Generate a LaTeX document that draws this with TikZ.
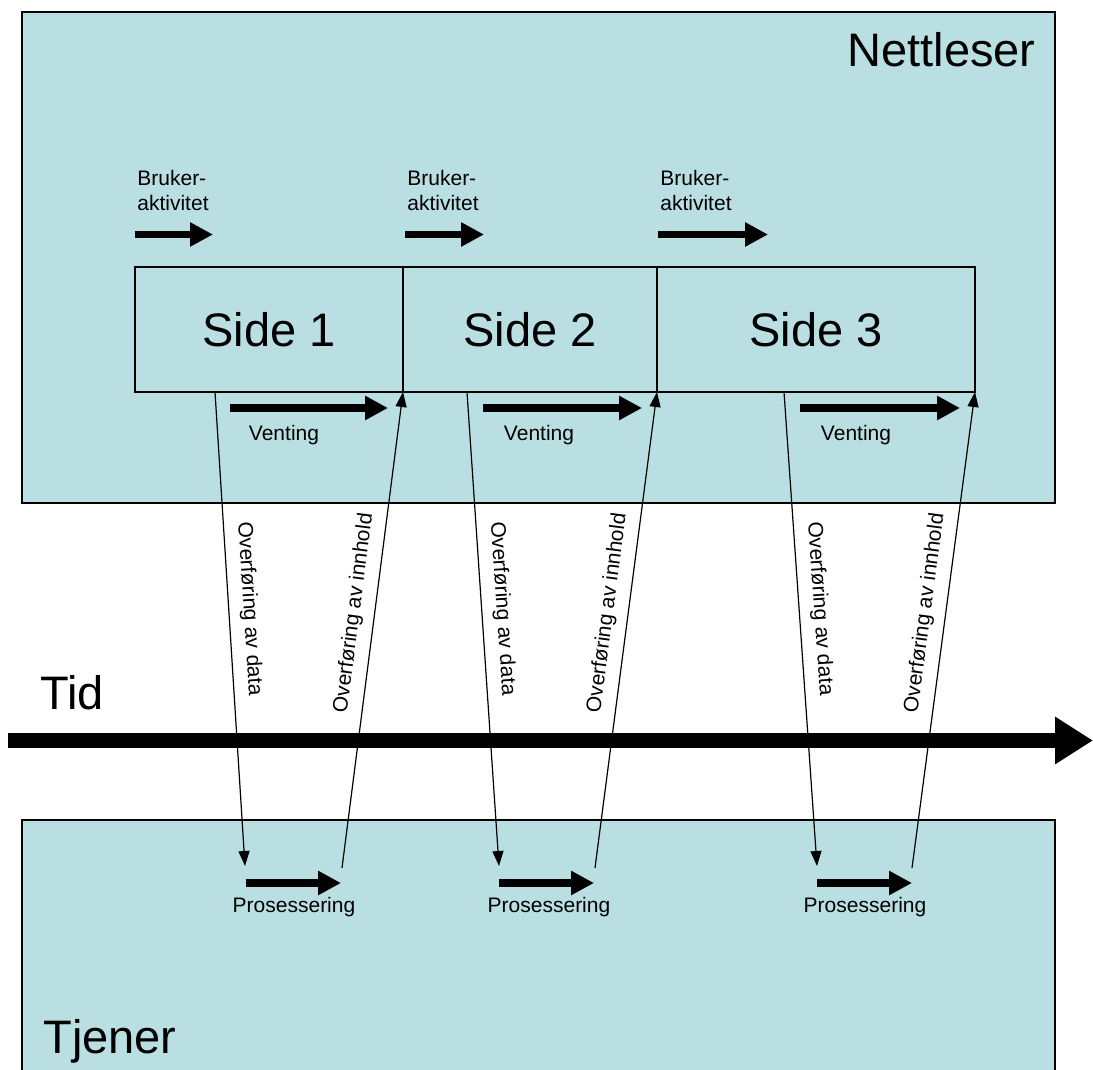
\documentclass[tikz,border=0pt]{standalone}
\usepackage{fontspec}
\setmainfont{Liberation Sans}
\usetikzlibrary{arrows.meta,positioning}
\definecolor{panelblue}{RGB}{186,223,227}

\begin{document}
\begin{tikzpicture}[x=0.5pt, y=-0.5pt,
        every node/.style={font=\fontsize{10.5}{13}\selectfont},
        big/.style={font=\fontsize{23.5}{28}\selectfont},
        title/.style={big, anchor=base west, inner sep=0pt},
        panel/.style={fill=panelblue, draw=black, line width=0.6pt},
        sidebox/.style={draw, line width=0.65pt, minimum height=62.5pt, inner sep=0pt, outer sep=0pt, big},
        fat/.style={line width=3.6pt, -{Triangle[length=11.5pt, width=11.5pt]}},
        link/.style={line width=0.6pt, -{Triangle[length=7.5pt, width=5.5pt]}},
        tag/.style={sloped, above=3pt, inner sep=2pt}]
        \useasboundingbox (0,0) rectangle (1093,1070);

        % Browser and server
        \draw[panel] (22,12) rectangle (1055,503);
        \draw[panel] (22,820) rectangle (1055,1076);
        \node[title] (browser) at (847,67) {Nettleser};
        \node[title] (server) at (43,1053) {Tjener};

        % Pages
        \node[sidebox, minimum width=134pt] (side1) at (269,329.5) {Side 1};
        \node[sidebox, minimum width=127pt, right=0pt of side1] (side2) {Side 2};
        \node[sidebox, minimum width=159pt, right=0pt of side2] (side3) {Side 3};

        % Time axis
        \node[title] (time) at (40,709) {Tid};
        \draw[line width=7.5pt, -{Triangle[length=19pt, width=22.5pt]}] (8,740.5) -- (1093,740.5);

        % User activity
        \foreach \x/\len [count=\i] in {135/78, 405/79, 658/110} {
            \draw[fat] (\x,234.5) -- ++(\len,0);
            \node[anchor=base west, align=left, inner sep=0pt] (act\i) at (\x+2,211) {Bruker-\\aktivitet};
        }

        % Waiting
        \foreach \x/\len/\lx [count=\i] in {230/158/284, 483/159/539, 800/160/856} {
            \draw[fat] (\x,408) -- ++(\len,0);
            \node[anchor=base] (wait\i) at (\lx,440) {Venting};
        }

        % Processing
        \foreach \x/\lx [count=\i] in {246/294, 499/549, 817/865} {
            \draw[fat] (\x,883) -- ++(95,0);
            \node[anchor=base] (proc\i) at (\lx,912) {Prosessering};
        }

        % Transfers
        \foreach \i/\a/\b/\c in {1/215/245/342, 2/467/499/595, 3/784/817/912} {
            \coordinate (req\i) at (\a,392);
            \coordinate (arr\i) at (\b,866);
            \coordinate (ret\i) at (\c,868);
            \draw[link] (req\i) -- node[tag, pos=0.46] (data\i) {Overføring av data} (arr\i);
            \draw[link] (ret\i) -- node[tag, pos=0.53] (content\i) {Overføring av innhold} (side\i.south east);
        }
    \end{tikzpicture}
\end{document}
